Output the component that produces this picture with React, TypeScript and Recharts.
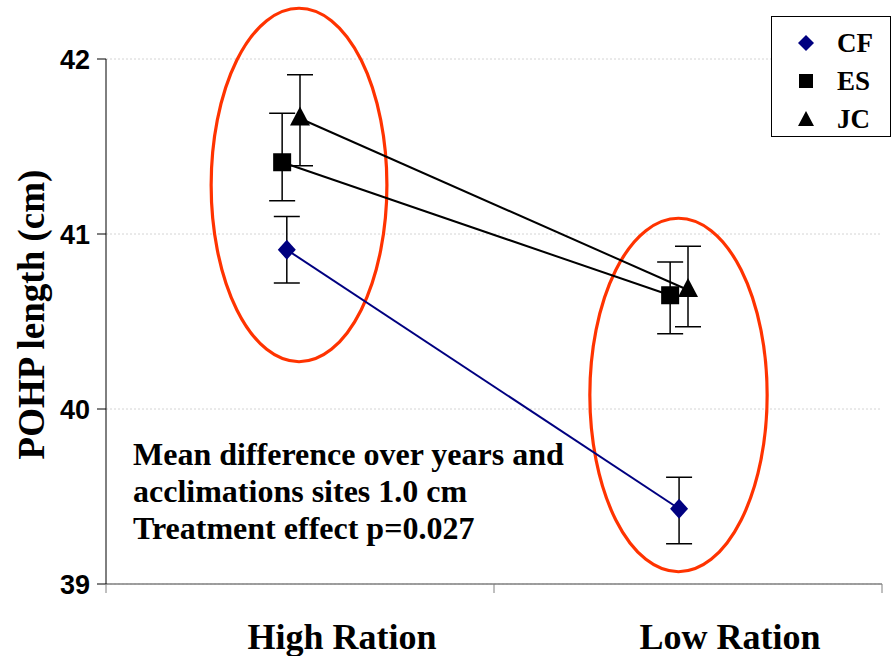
import React from "react";
import {
  ComposedChart,
  Scatter,
  XAxis,
  YAxis,
  CartesianGrid,
  ErrorBar,
  Legend,
  ReferenceArea,
  Customized,
} from "recharts";

const categories = ["High Ration", "Low Ration"];
const xTicks = [0, 0.5, 1, 1.5, 2];
const yTicks = [39, 40, 41, 42];

// where each site sits inside its ration group (slight spread)
const cfX = [0.466, 1.477];
const esX = [0.454, 1.454];
const jcX = [0.5, 1.5];

const cfMean = [40.91, 39.43];
const esMean = [41.41, 40.65];
const jcMean = [41.66, 40.68];

// [minus, plus]
const cfErr = [[0.19, 0.19], [0.2, 0.18]];
const esErr = [[0.22, 0.28], [0.22, 0.19]];
const jcErr = [[0.27, 0.25], [0.21, 0.25]];

// red rings round each group: x1, x2, y1, y2
const ringHigh = [0.271, 0.724, 40.27, 42.29];
const ringLow = [1.247, 1.704, 39.07, 41.09];

const noteLines = [
  "Mean difference over years and",
  "acclimations sites 1.0 cm",
  "Treatment effect p=0.027",
];

const serif = "'Liberation Serif', 'Times New Roman', serif";
const sans = "'Liberation Sans', Arial, sans-serif";
const NAVY = "#000080";
const RING = "#ff3300";

const rows = (xs: number[], means: number[], errs: number[][]) =>
  xs.map((x, i) => ({ x, y: means[i], err: errs[i] }));

const cfData = rows(cfX, cfMean, cfErr);
const esData = rows(esX, esMean, esErr);
const jcData = rows(jcX, jcMean, jcErr);

const Diamond = (p: any) => (
  <polygon
    points={`${p.cx},${p.cy - 10} ${p.cx + 9},${p.cy} ${p.cx},${p.cy + 10} ${p.cx - 9},${p.cy}`}
    fill={NAVY}
  />
);
const Square = (p: any) => (
  <rect x={p.cx - 9} y={p.cy - 9} width={18} height={18} fill="#000" />
);
const Triangle = (p: any) => (
  <polygon
    points={`${p.cx},${p.cy - 12} ${p.cx + 10},${p.cy + 7} ${p.cx - 10},${p.cy + 7}`}
    fill="#000"
  />
);

const legendMarks: Record<string, React.ReactNode> = {
  CF: <polygon points="10,2 18,10 10,18 2,10" fill={NAVY} />,
  ES: <rect x={3} y={3} width={14} height={14} fill="#000" />,
  JC: <polygon points="10,2 18,17 2,17" fill="#000" />,
};

const LegendBox = (props: any) => {
  const items = props.payload || [];
  return (
    <div
      style={{
        width: 120,
        height: 121,
        boxSizing: "border-box",
        border: "1px solid #000",
        background: "#fff",
        paddingTop: 7,
      }}
    >
      {items.map((it: any) => (
        <div
          key={it.value}
          style={{ display: "flex", alignItems: "center", height: 38 }}
        >
          <svg width={20} height={20} style={{ marginLeft: 24 }}>
            {legendMarks[it.value]}
          </svg>
          <span
            style={{
              marginLeft: 21,
              fontFamily: serif,
              fontWeight: "bold",
              fontSize: 27,
              color: "#000",
            }}
          >
            {it.value}
          </span>
        </div>
      ))}
    </div>
  );
};

const Ring = (p: any) => (
  <ellipse
    cx={p.x + p.width / 2}
    cy={p.y + p.height / 2}
    rx={Math.abs(p.width) / 2}
    ry={Math.abs(p.height) / 2}
    fill="none"
    stroke={RING}
    strokeWidth={3.2}
  />
);

const XTick = (p: any) => {
  const v = p.payload.value;
  if (Number.isInteger(v)) {
    return <line x1={p.x} x2={p.x} y1={p.y} y2={p.y + 9} stroke="#808080" />;
  }
  const idx = Math.floor(v);
  return (
    <text
      x={p.x + 42}
      y={p.y + 65}
      textAnchor="middle"
      fontFamily={serif}
      fontWeight="bold"
      fontSize={36}
      fill="#000"
    >
      {categories[idx]}
    </text>
  );
};

const YLabel = (p: any) => {
  const vb = p.viewBox;
  const cx = 44;
  const cy = vb.y + vb.height / 2 - 7;
  return (
    <text
      x={cx}
      y={cy}
      transform={`rotate(-90, ${cx}, ${cy})`}
      textAnchor="middle"
      fontFamily={serif}
      fontWeight="bold"
      fontSize={37}
      fill="#000"
    >
      POHP length (cm)
    </text>
  );
};

const Note = () => (
  <text fontFamily={serif} fontWeight="bold" fontSize={32} fill="#000">
    {noteLines.map((t, i) => (
      <tspan key={i} x={133} y={465 + i * 37}>
        {t}
      </tspan>
    ))}
  </text>
);

export default function App() {
  return (
    <div style={{ position: "absolute", left: 0, top: 0 }}>
      <ComposedChart
        width={891}
        height={656}
        margin={{ top: 59, right: 9, left: 0, bottom: 0 }}
      >
        <CartesianGrid
          vertical={false}
          stroke="#d4d4d4"
          strokeDasharray="2 2"
        />
        <XAxis
          type="number"
          dataKey="x"
          domain={[0, 2]}
          ticks={xTicks}
          interval={0}
          height={72}
          axisLine={{ stroke: "#808080", strokeWidth: 1.5 }}
          tickLine={false}
          tickSize={0}
          tickMargin={0}
          tick={<XTick />}
        />
        <YAxis
          type="number"
          domain={[39, 42]}
          ticks={yTicks}
          interval={0}
          width={106}
          axisLine={{ stroke: "#000" }}
          tickLine={{ stroke: "#000" }}
          tickSize={9}
          tickMargin={7}
          tick={{
            fontFamily: sans,
            fontWeight: "bold",
            fontSize: 27,
            fill: "#000",
          }}
          label={<YLabel />}
        />
        <ReferenceArea
          x1={ringHigh[0]}
          x2={ringHigh[1]}
          y1={ringHigh[2]}
          y2={ringHigh[3]}
          ifOverflow="visible"
          shape={Ring}
        />
        <ReferenceArea
          x1={ringLow[0]}
          x2={ringLow[1]}
          y1={ringLow[2]}
          y2={ringLow[3]}
          ifOverflow="visible"
          shape={Ring}
        />
        <Legend
          layout="vertical"
          align="center"
          verticalAlign="middle"
          wrapperStyle={{ left: 771, top: 16, width: 120, height: 121 }}
          content={<LegendBox />}
        />
        <Scatter
          name="CF"
          data={cfData}
          dataKey="y"
          line={{ stroke: NAVY, strokeWidth: 2 }}
          shape={Diamond}
          fill={NAVY}
          isAnimationActive={false}
        >
          <ErrorBar dataKey="err" direction="y" width={13} stroke="#000" strokeWidth={1.5} isAnimationActive={false} />
        </Scatter>
        <Scatter
          name="ES"
          data={esData}
          dataKey="y"
          line={{ stroke: "#000", strokeWidth: 2 }}
          shape={Square}
          fill="#000"
          isAnimationActive={false}
        >
          <ErrorBar dataKey="err" direction="y" width={13} stroke="#000" strokeWidth={1.5} isAnimationActive={false} />
        </Scatter>
        <Scatter
          name="JC"
          data={jcData}
          dataKey="y"
          line={{ stroke: "#000", strokeWidth: 2 }}
          shape={Triangle}
          fill="#000"
          isAnimationActive={false}
        >
          <ErrorBar dataKey="err" direction="y" width={13} stroke="#000" strokeWidth={1.5} isAnimationActive={false} />
        </Scatter>
        <Customized component={Note} />
      </ComposedChart>
    </div>
  );
}
